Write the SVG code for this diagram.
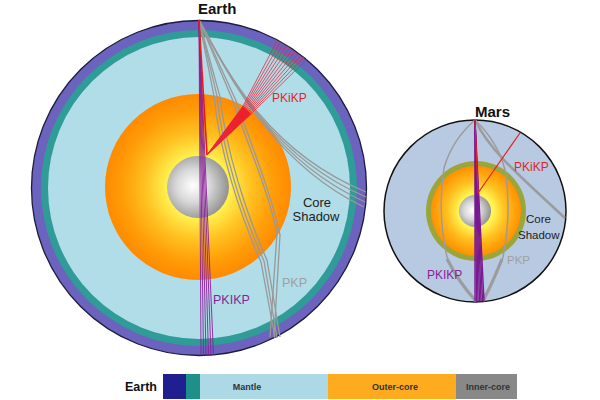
<svg xmlns="http://www.w3.org/2000/svg" width="600" height="400" viewBox="0 0 600 400">
<defs>
<style>
text{font-family:"Liberation Sans",Arial,sans-serif}
.ttl{font-weight:bold;font-size:15px;fill:#111}
.red{fill:#e02828}
.pur{fill:#8a1f9a}
.gry{fill:#a0a0a0}
.blk{fill:#222}
.lg{font-weight:bold;font-size:9px;fill:#333;text-anchor:middle}
.g{fill:none;stroke:#999;stroke-width:1.3}
.gm{fill:none;stroke:#9c9c9c;stroke-width:1.5}
.p{stroke:#8a1f9a;stroke-width:0.9;fill:none}
.pm{stroke:#7a1890;stroke-width:1.4;fill:none}
.r{stroke:#e8283c;stroke-width:0.8;fill:none}
</style>
<radialGradient id="ocE" cx="198" cy="187" r="93" gradientUnits="userSpaceOnUse">
<stop offset="0" stop-color="#ffffa0"/>
<stop offset="0.33" stop-color="#fff250"/>
<stop offset="0.58" stop-color="#ffc020"/>
<stop offset="0.82" stop-color="#ff9c08"/>
<stop offset="1" stop-color="#ff8a00"/>
</radialGradient>
<radialGradient id="ocM" cx="476" cy="211" r="45" gradientUnits="userSpaceOnUse">
<stop offset="0" stop-color="#ffffa0"/>
<stop offset="0.4" stop-color="#fff250"/>
<stop offset="0.65" stop-color="#ffc020"/>
<stop offset="1" stop-color="#ff9000"/>
</radialGradient>
<radialGradient id="ic" cx="0.42" cy="0.48" r="0.6">
<stop offset="0" stop-color="#ffffff"/>
<stop offset="0.45" stop-color="#d8d8d8"/>
<stop offset="1" stop-color="#8c8c8c"/>
</radialGradient>
</defs>
<rect width="600" height="400" fill="#fff"/>

<g id="earth">
<circle cx="199" cy="188" r="167.5" fill="#6c63be" stroke="#1c1c3c" stroke-width="1.3"/>
<circle cx="199" cy="188" r="158" fill="#2f9c98"/>
<circle cx="199" cy="188" r="151" fill="#b0dde8"/>
<circle cx="198" cy="187" r="93" fill="url(#ocE)"/>
<circle cx="198" cy="187" r="31" fill="url(#ic)"/>
<text class="ttl" x="198" y="14">Earth</text>
</g>

<g id="mars">
<circle cx="475" cy="211" r="91" fill="#b8c9e2" stroke="#111" stroke-width="1.5"/>
<circle cx="476" cy="211" r="50" fill="#9aa63c"/>
<circle cx="476" cy="211" r="45" fill="url(#ocM)"/>
<circle cx="475" cy="211" r="16" fill="url(#ic)"/>
<text class="ttl" x="475" y="117">Mars</text>
</g>

<g id="connectors">
<!-- Earth grazing P bundle -->
<path class="g" d="M199,20 C223,64 264,150 366,192"/>
<path class="g" d="M199,20 C224,66 266,154 366,197"/>
<path class="g" d="M199,20 C225,68 268,158 365,202"/>
<path class="g" d="M199,20 C226,70 270,162 364,207"/>
<!-- Earth PKP -->
<path class="g" d="M199,20 L214,96 C219,150 240,215 261,262 L275,338"/>
<path class="g" d="M199,20 L217,96 C222,150 243,215 264,261 L277,338"/>
<path class="g" d="M199,20 L220,97 C226,150 246,214 267,260 L280,337"/>
<path class="g" d="M199,20 L233,101 C246,140 268,190 277,233 L270,337"/>
<path class="g" d="M199,20 L237,103 C250,142 271,192 280,235 L274,337"/>
<!-- Earth PKIKP -->
<path class="p" d="M199,20 L201,355"/>
<path class="p" d="M199,20 L203.5,355.5"/>
<path class="p" d="M199,20 L206,356"/>
<path class="p" d="M199,20 L208.5,356"/>
<path class="p" d="M199,20 L211,355.5"/>
<path class="p" d="M199,20 L213.5,355"/>
<!-- Earth PKiKP -->
<path d="M199,20 L207,155" stroke="#f01818" stroke-width="1.6" fill="none"/>
<polygon points="206,156 243,106 251,114" fill="#f01818"/>
<polyline class="r" points="207,155 243,106 277,41"/>
<polyline class="r" points="207,155 243.8,106.8 280,42.8"/>
<polyline class="r" points="207,155 244.6,107.6 283,44.6"/>
<polyline class="r" points="207,155 245.4,108.4 286,46.4"/>
<polyline class="r" points="207,155 246.2,109.2 289,48.2"/>
<polyline class="r" points="207,155 247,110 292,50"/>
<polyline class="r" points="207,155 247.8,110.8 295,51.8"/>
<polyline class="r" points="207,155 248.6,111.6 298,53.6"/>
<polyline class="r" points="207,155 249.4,112.4 301,55.4"/>
<polyline class="r" points="207,155 250.2,113.2 304,57.2"/>
<polyline class="r" points="207,155 251,114 307,59"/>

<!-- Mars gray -->
<path class="gm" d="M475,120 Q452,140 444,168 Q437,212 447,257 Q458,282 476,301"/>
<path class="gm" d="M475,120 Q498,142 505,170 Q512,212 503,257 Q494,282 481,301"/>
<path d="M447,259 Q460,284 476,301" stroke="#9c9c9c" stroke-width="3.2" fill="none"/>
<path d="M502,259 Q492,284 483,301" stroke="#9c9c9c" stroke-width="3.2" fill="none"/>
<path d="M475,120 C488,148 515,172 565,218" stroke="#9c9c9c" stroke-width="2.6" fill="none"/>
<!-- Mars PKIKP -->
<path class="pm" d="M475,120 L475,301"/>
<path class="pm" d="M475,120 L476.5,301"/>
<path class="pm" d="M475,120 L478,301"/>
<path class="pm" d="M475,120 L479.5,301"/>
<path class="pm" d="M475,120 L481,301"/>
<path class="pm" d="M475,120 L482.5,301"/>
<path class="pm" d="M475,120 L484,301"/>
<!-- Mars PKiKP -->
<polyline points="475,120 478,193 520,133" stroke="#e82020" stroke-width="1.2" fill="none"/>
</g>

<g id="labels">
<text class="red" x="272" y="102" font-size="12">PKiKP</text>
<text class="blk" x="317" y="207" font-size="13" text-anchor="middle">Core</text>
<text class="blk" x="316" y="221" font-size="13" text-anchor="middle">Shadow</text>
<text class="gry" x="282" y="287" font-size="12.5">PKP</text>
<text class="pur" x="213" y="304" font-size="12.5">PKIKP</text>
<text class="red" x="514" y="171" font-size="12">PKiKP</text>
<text class="blk" x="526" y="223" font-size="11.5">Core</text>
<text class="blk" x="518" y="239" font-size="11.5">Shadow</text>
<text class="gry" x="507" y="264" font-size="11.5">PKP</text>
<text class="pur" x="427" y="279" font-size="12">PKIKP</text>
</g>

<g id="legend">
<text x="125" y="391" font-size="12.5" font-weight="bold" fill="#111">Earth</text>
<rect x="163" y="374" width="23" height="25" fill="#1f1f8f"/>
<rect x="186" y="374" width="14" height="25" fill="#1f8f8a"/>
<rect x="200" y="374" width="128" height="25" fill="#add8e6"/>
<rect x="328" y="374" width="128" height="25" fill="#ffab20"/>
<rect x="456" y="374" width="61" height="25" fill="#888888"/>
<text class="lg" x="247" y="390">Mantle</text>
<text class="lg" x="395" y="390">Outer-core</text>
<text class="lg" x="488" y="390">Inner-core</text>
</g>
</svg>
